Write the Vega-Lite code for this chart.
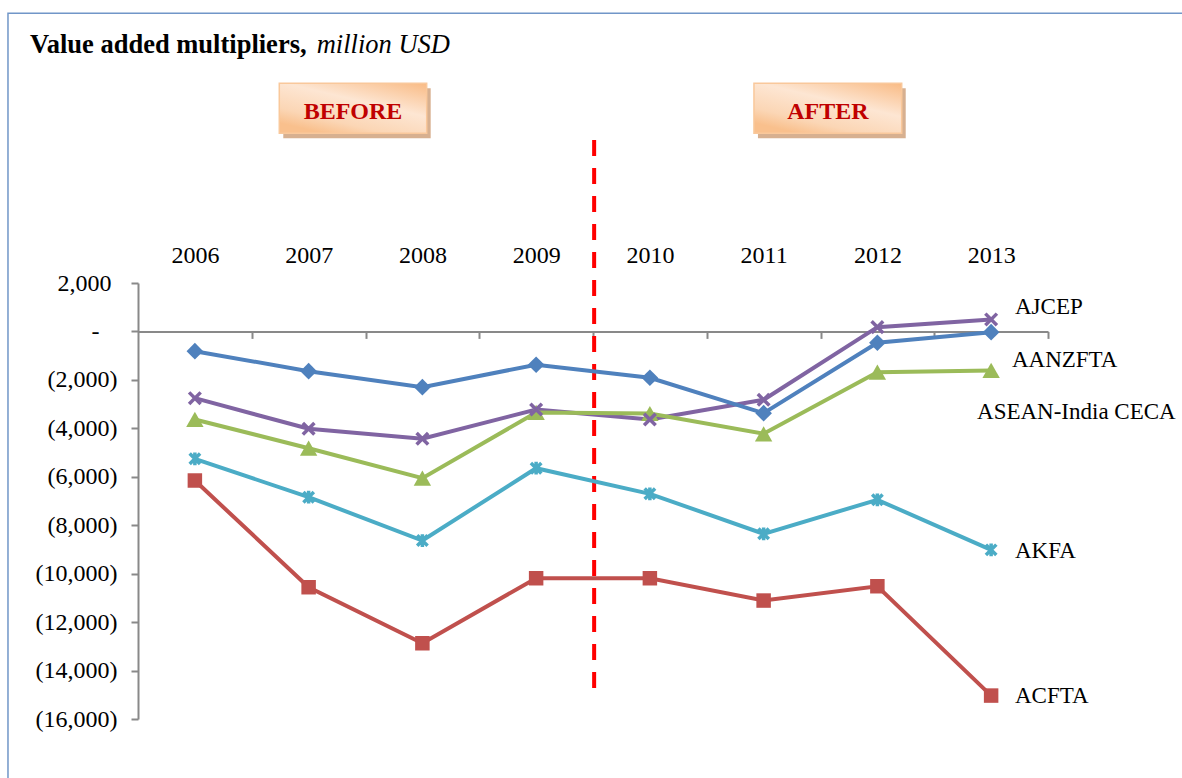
{
  "$schema": "https://vega.github.io/schema/vega-lite/v6.json",
  "width": 910,
  "height": 436,
  "autosize": {"type": "none"},
  "padding": {"left": 138, "top": 283, "right": 134, "bottom": 59},
  "background": "white",
  "config": {"view": {"stroke": null}, "font": "Liberation Serif"},
  "datasets": {
    "main": [
      {"series": "AJCEP", "year": 2006, "value": -2755},
      {"series": "AJCEP", "year": 2007, "value": -4018},
      {"series": "AJCEP", "year": 2008, "value": -4431},
      {"series": "AJCEP", "year": 2009, "value": -3221},
      {"series": "AJCEP", "year": 2010, "value": -3634},
      {"series": "AJCEP", "year": 2011, "value": -2821},
      {"series": "AJCEP", "year": 2012, "value": 178},
      {"series": "AJCEP", "year": 2013, "value": 496},
      {"series": "AANZFTA", "year": 2006, "value": -814},
      {"series": "AANZFTA", "year": 2007, "value": -1640},
      {"series": "AANZFTA", "year": 2008, "value": -2300},
      {"series": "AANZFTA", "year": 2009, "value": -1375},
      {"series": "AANZFTA", "year": 2010, "value": -1912},
      {"series": "AANZFTA", "year": 2011, "value": -3374},
      {"series": "AANZFTA", "year": 2012, "value": -467},
      {"series": "AANZFTA", "year": 2013, "value": -30},
      {"series": "ASEAN-India CECA", "year": 2006, "value": -3634},
      {"series": "ASEAN-India CECA", "year": 2007, "value": -4820},
      {"series": "ASEAN-India CECA", "year": 2008, "value": -6059},
      {"series": "ASEAN-India CECA", "year": 2009, "value": -3345},
      {"series": "ASEAN-India CECA", "year": 2010, "value": -3387},
      {"series": "ASEAN-India CECA", "year": 2011, "value": -4225},
      {"series": "ASEAN-India CECA", "year": 2012, "value": -1681},
      {"series": "ASEAN-India CECA", "year": 2013, "value": -1611},
      {"series": "AKFA", "year": 2006, "value": -5257},
      {"series": "AKFA", "year": 2007, "value": -6843},
      {"series": "AKFA", "year": 2008, "value": -8632},
      {"series": "AKFA", "year": 2009, "value": -5646},
      {"series": "AKFA", "year": 2010, "value": -6703},
      {"series": "AKFA", "year": 2011, "value": -8355},
      {"series": "AKFA", "year": 2012, "value": -6951},
      {"series": "AKFA", "year": 2013, "value": -9016},
      {"series": "ACFTA", "year": 2006, "value": -6154},
      {"series": "ACFTA", "year": 2007, "value": -10560},
      {"series": "ACFTA", "year": 2008, "value": -12873},
      {"series": "ACFTA", "year": 2009, "value": -10189},
      {"series": "ACFTA", "year": 2010, "value": -10189},
      {"series": "ACFTA", "year": 2011, "value": -11110},
      {"series": "ACFTA", "year": 2012, "value": -10519},
      {"series": "ACFTA", "year": 2013, "value": -15033}
    ],
    "endLabels": [
      {"label": "AJCEP", "year": 2013.21, "value": 720},
      {"label": "AANZFTA", "year": 2013.183, "value": -1468},
      {"label": "ASEAN-India CECA", "year": 2012.876, "value": -3615},
      {"label": "AKFA", "year": 2013.21, "value": -9353},
      {"label": "ACFTA", "year": 2013.21, "value": -15339}
    ],
    "boxes": [
      {"label": "BEFORE", "year": 2006.742, "year2": 2008.038, "value": 10244, "value2": 8180},
      {"label": "AFTER", "year": 2010.915, "year2": 2012.214, "value": 10244, "value2": 8180}
    ],
    "boxLabels": [
      {"label": "BEFORE", "year": 2007.39, "value": 8758},
      {"label": "AFTER", "year": 2011.565, "value": 8758}
    ],
    "divider": [{"year": 2009.51, "value": 7904, "value2": -14803}],
    "border": [{"year": 2004.357, "year2": 2016, "value": 13134, "value2": -20000}],
    "titleBold": [{"text": "Value added multipliers,", "year": 2004.5505, "value": 11495}],
    "titleItalic": [{"text": "million USD", "year": 2007.071, "value": 11495}]
  },
  "encoding": {
    "x": {
      "field": "year",
      "type": "quantitative",
      "title": null,
      "scale": {"domain": [2005.5, 2013.5], "nice": false, "zero": false},
      "axis": {
        "orient": "top",
        "offset": -48.4,
        "values": [2006.5, 2007.5, 2008.5, 2009.5, 2010.5, 2011.5, 2012.5, 2013.5],
        "labelExpr": "format(datum.value - 0.5, 'd')",
        "labelOffset": -56.875,
        "labelFlush": false,
        "labelOverlap": false,
        "labelBound": false,
        "labelFontSize": 24,
        "labelColor": "#000000",
        "labelBaseline": "alphabetic",
        "labelPadding": 76,
        "tickSize": -7,
        "tickColor": "#898989",
        "tickWidth": 2,
        "domainColor": "#898989",
        "domainWidth": 2,
        "grid": false
      }
    },
    "y": {
      "field": "value",
      "type": "quantitative",
      "title": null,
      "scale": {"domain": [-16000, 2000], "nice": false, "zero": false},
      "axis": {
        "orient": "left",
        "values": [-16000, -14000, -12000, -10000, -8000, -6000, -4000, -2000, 0, 2000],
        "labelExpr": "datum.value == 0 ? '-\u00a0\u00a0\u00a0\u200b' : datum.value < 0 ? '(' + format(-datum.value, ',') + ')' : format(datum.value, ',') + '\u00a0\u200b'",
        "labelFontSize": 24,
        "labelColor": "#000000",
        "labelPadding": 14,
        "labelOverlap": false,
        "labelBound": false,
        "labelFlush": false,
        "tickSize": 7,
        "tickColor": "#898989",
        "tickWidth": 2,
        "domainColor": "#898989",
        "domainWidth": 2,
        "grid": false
      }
    }
  },
  "layer": [
    {
      "data": {"name": "border"},
      "mark": {"type": "rect", "filled": false, "stroke": "#7196c8", "strokeWidth": 1.5, "clip": false},
      "encoding": {"x2": {"field": "year2"}, "y2": {"field": "value2"}}
    },
    {
      "data": {"name": "boxes"},
      "mark": {"type": "rect", "color": "#d3a784", "xOffset": 4, "x2Offset": 4, "yOffset": 5, "y2Offset": 5, "opacity": 0.9},
      "encoding": {"x2": {"field": "year2"}, "y2": {"field": "value2"}}
    },
    {
      "data": {"name": "boxes"},
      "mark": {
        "type": "rect",
        "stroke": "#f9c89b",
        "strokeWidth": 1.5,
        "fill": {
          "gradient": "linear",
          "x1": 1, "y1": 0, "x2": 0.3, "y2": 1,
          "stops": [
            {"offset": 0, "color": "#f9bb85"},
            {"offset": 0.45, "color": "#fde6d3"},
            {"offset": 0.8, "color": "#fbd6b5"},
            {"offset": 1, "color": "#f9c08d"}
          ]
        }
      },
      "encoding": {"x2": {"field": "year2"}, "y2": {"field": "value2"}}
    },
    {
      "data": {"name": "boxLabels"},
      "mark": {"type": "text", "font": "Liberation Serif", "fontSize": 24, "fontWeight": "bold", "color": "#c00000", "align": "center", "baseline": "alphabetic"},
      "encoding": {"text": {"field": "label"}}
    },
    {
      "data": {"name": "divider"},
      "mark": {"type": "rule", "color": "#ff0000", "strokeWidth": 4, "strokeDash": [16, 12]},
      "encoding": {"y2": {"field": "value2"}}
    },
    {
      "data": {"name": "main"},
      "mark": {"type": "line", "strokeWidth": 4},
      "encoding": {
        "color": {
          "field": "series",
          "type": "nominal",
          "legend": null,
          "scale": {
            "domain": ["AJCEP", "AANZFTA", "ASEAN-India CECA", "AKFA", "ACFTA"],
            "range": ["#8064a2", "#4f81bd", "#9bbb59", "#4bacc6", "#c0504d"]
          }
        },
        "detail": {"field": "series"}
      }
    },
    {
      "data": {"name": "main"},
      "transform": [{"filter": {"field": "series", "oneOf": ["AANZFTA", "ASEAN-India CECA", "ACFTA"]}}],
      "mark": {"type": "point", "filled": true, "opacity": 1, "size": 210},
      "encoding": {
        "color": {
          "field": "series",
          "type": "nominal",
          "legend": null,
          "scale": {
            "domain": ["AJCEP", "AANZFTA", "ASEAN-India CECA", "AKFA", "ACFTA"],
            "range": ["#8064a2", "#4f81bd", "#9bbb59", "#4bacc6", "#c0504d"]
          }
        },
        "shape": {
          "field": "series",
          "type": "nominal",
          "legend": null,
          "scale": {
            "domain": ["AJCEP", "AANZFTA", "ASEAN-India CECA", "AKFA", "ACFTA"],
            "range": [
              "M-0.8,-0.8L0.8,0.8M0.8,-0.8L-0.8,0.8",
              "M-1.15,0L0,-1.15L1.15,0L0,1.15Z",
              "M0,-1.05L1.2,1.05L-1.2,1.05Z",
              "M-0.72,-0.72L0.72,0.72M0.72,-0.72L-0.72,0.72M0,-0.88L0,0.88",
              "M-1,-1H1V1H-1Z"
            ]
          }
        }
      }
    },
    {
      "data": {"name": "main"},
      "transform": [{"filter": {"field": "series", "oneOf": ["AJCEP", "AKFA"]}}],
      "mark": {"type": "point", "filled": false, "opacity": 1, "strokeWidth": 3.5, "size": 210},
      "encoding": {
        "color": {
          "field": "series",
          "type": "nominal",
          "legend": null,
          "scale": {
            "domain": ["AJCEP", "AANZFTA", "ASEAN-India CECA", "AKFA", "ACFTA"],
            "range": ["#8064a2", "#4f81bd", "#9bbb59", "#4bacc6", "#c0504d"]
          }
        },
        "shape": {
          "field": "series",
          "type": "nominal",
          "legend": null,
          "scale": {
            "domain": ["AJCEP", "AANZFTA", "ASEAN-India CECA", "AKFA", "ACFTA"],
            "range": [
              "M-0.8,-0.8L0.8,0.8M0.8,-0.8L-0.8,0.8",
              "M-1.15,0L0,-1.15L1.15,0L0,1.15Z",
              "M0,-1.05L1.2,1.05L-1.2,1.05Z",
              "M-0.72,-0.72L0.72,0.72M0.72,-0.72L-0.72,0.72M0,-0.88L0,0.88",
              "M-1,-1H1V1H-1Z"
            ]
          }
        }
      }
    },
    {
      "data": {"name": "endLabels"},
      "mark": {"type": "text", "font": "Liberation Serif", "fontSize": 23, "color": "#000000", "align": "left", "baseline": "alphabetic"},
      "encoding": {"text": {"field": "label"}}
    },
    {
      "data": {"name": "titleBold"},
      "mark": {"type": "text", "font": "Liberation Serif", "fontSize": 26.5, "fontWeight": "bold", "color": "#000000", "align": "left", "baseline": "alphabetic"},
      "encoding": {"text": {"field": "text"}}
    },
    {
      "data": {"name": "titleItalic"},
      "mark": {"type": "text", "font": "Liberation Serif", "fontSize": 26.5, "fontStyle": "italic", "color": "#000000", "align": "left", "baseline": "alphabetic"},
      "encoding": {"text": {"field": "text"}}
    }
  ]
}
